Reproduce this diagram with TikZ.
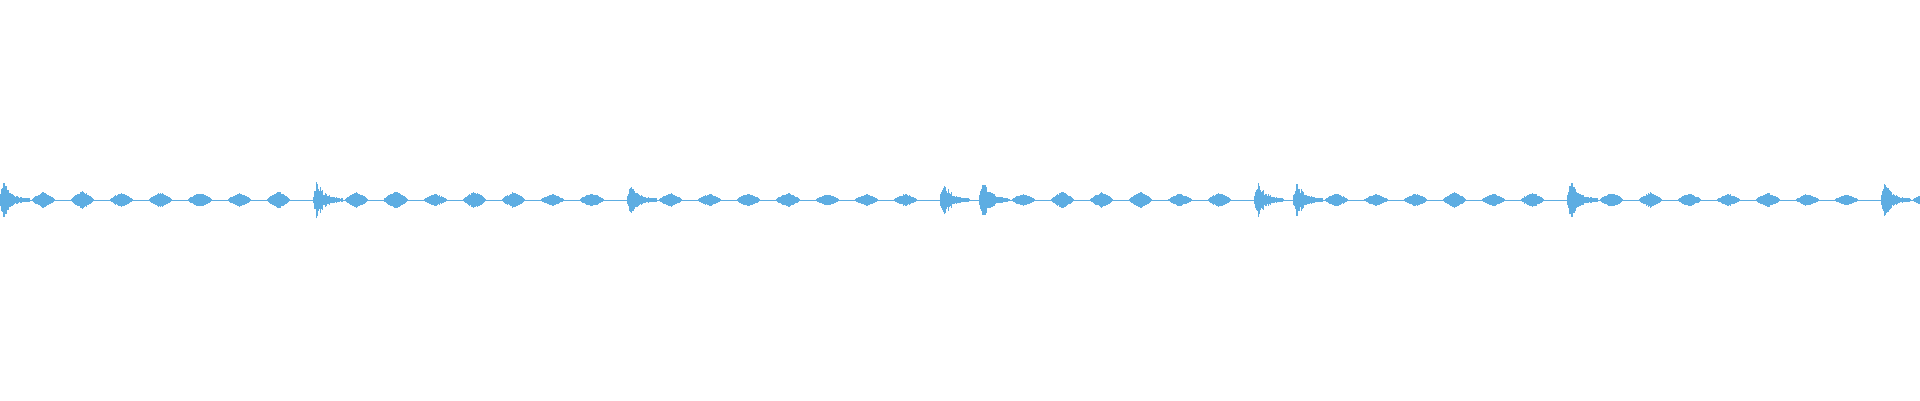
\documentclass[tikz,border=0pt]{standalone}
\definecolor{wave}{RGB}{93,173,226}
\begin{document}
\begin{tikzpicture}[x=1pt,y=1pt,wv/.style={draw=wave,line width=1.1pt}]
\useasboundingbox (0,0) rectangle (1920,400);
\pgfmathsetseed{7}
\coordinate (L) at (0,200);
\coordinate (R) at (1920,200);
\draw[draw=wave,line width=0.7pt] (L) -- (R);
\foreach \k in {0,...,49}{
  \pgfmathsetmacro\xc{39.2*\k+3}
  \pgfmathsetmacro\amp{6+3*rnd}
  \pgfmathtruncatemacro\strong{or(mod(\k,8)==0, or(\k==25,\k==33))}
  \ifnum\strong=1
    \foreach \d in {-3,...,26}{
      \pgfmathsetmacro\h{(\d<0 ? 19*(1+\d/4) : 19*exp(-\d/8))*(0.5+0.5*rnd)+1}
      \draw[wv] ({\xc+\d},{200-\h}) -- ({\xc+\d},{200+\h});
    }
  \else
    \foreach \d in {-10,...,12}{
      \pgfmathsetmacro\h{max(0.6,\amp*(1-abs((\d-1)/12))^0.7*(0.8+0.2*rnd))}
      \draw[wv] ({\xc+\d},{200-\h}) -- ({\xc+\d},{200+\h});
    }
  \fi
}
\end{tikzpicture}
\end{document}
